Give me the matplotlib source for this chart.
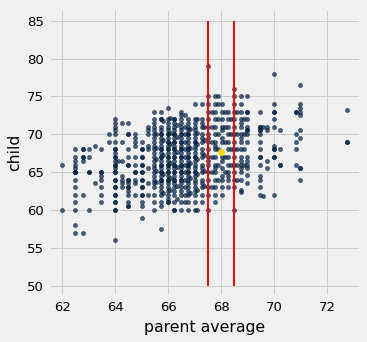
import matplotlib
matplotlib.use('Agg')
import matplotlib.pyplot as plt

# midparent height of each family column, and the children's heights in it
mid = [62.0, 62.5, 62.77, 63.0, 63.25, 63.48, 63.75, 64.0, 64.1, 64.25,
       64.5, 64.75, 65.0, 65.25, 65.48, 65.55, 65.75, 65.82, 66.0, 66.08,
       66.24, 66.32, 66.5, 66.62, 66.74, 66.82, 67.0, 67.1, 67.27, 67.35,
       67.52, 67.65, 67.77, 67.9, 68.02, 68.14, 68.25, 68.37, 68.5, 68.62,
       68.74, 68.87, 68.99, 69.48, 69.6, 69.75, 70.0, 70.23, 70.84, 71.0,
       72.75]

kids = [
    [66, 60],
    [68, 67, 66.5, 66, 65.5, 65, 65, 65, 64, 63, 62, 61, 60, 58, 57],
    [68, 68, 67, 67, 66.5, 62, 57],
    [68, 67, 65, 65, 60],
    [68.5, 63.5],
    [68, 65, 65, 64.5, 64, 63, 62, 61],
    [70, 69],
    [72, 71.5, 71, 70.5, 70, 69, 68, 68, 67.5, 67, 67, 66.5, 66, 66, 65.5,
     65, 65, 64, 64, 63, 63, 62, 62, 61, 61, 60, 60, 56],
    [66.5],
    [71.5, 69, 66.5, 64.5, 64, 63.5, 63],
    [71.5, 70, 70, 68, 67, 66, 66, 64, 64, 63.5, 63, 63, 62.5, 62, 61,
     60.5, 60.5],
    [70, 69.5, 69, 68.5, 67, 66, 65, 65, 64, 63.5, 62],
    [69, 68, 68, 67, 67, 66, 66, 65, 65, 64, 64, 63, 63, 62, 62, 61, 60.5, 59],
    [71, 70.5, 70, 68.5, 68, 65.5, 63.5, 62],
    [73, 72, 71.5, 71, 70.5, 70, 69.5, 69, 68.5, 68, 67.5, 67, 66.5, 66,
     65.5, 65, 64.5, 64, 63.5, 63, 62, 61, 60],
    [70, 68.2, 66.7, 65.2, 63.7],
    [73, 72, 72, 71, 70.5, 70, 70, 69.5, 69, 68.5, 68, 68, 67.5, 67, 67,
     66.5, 66, 66, 65.5, 65, 65, 64.5, 64, 64, 63.5, 63, 62.5, 62, 61, 60.5,
     57.5],
    [71.7, 69.2, 67.2, 64.7, 62.2],
    [73.5, 72, 71.5, 71, 70.5, 70, 70, 69.5, 69, 69, 68.5, 68, 68, 67.5, 67,
     67, 66.5, 66, 66, 65.5, 65, 65, 64.5, 64, 64, 63.5, 63, 62.5, 62, 61.5,
     61, 61],
    [72.2, 70.2, 68.7, 66.2, 64.2, 62.7],
    [72, 72, 71.5, 71, 70.5, 70, 70, 69.5, 69, 69, 68.5, 68, 68, 67.5, 67,
     67, 66.5, 66, 66, 65.5, 65, 65, 64.5, 64, 64, 63.5, 63, 62.5, 62, 61,
     60, 60],
    [71.2, 69.7, 67.7, 65.7, 63.2, 61.5],
    [73, 72.5, 72, 71.5, 71, 70.5, 70, 70, 69.5, 69, 69, 68.5, 68, 68, 67.5,
     67, 67, 66.5, 66, 66, 65.5, 65, 65, 64.5, 64, 64, 63.5, 63, 62.5, 62,
     61, 60],
    [72.5, 71, 70, 69, 68, 67, 66, 65, 64, 63, 62, 61],
    [72, 71.5, 71, 70.5, 70, 70, 69.5, 69, 68.5, 68, 68, 67.5, 67, 67, 66.5,
     66, 66, 65.5, 65, 65, 64.5, 64, 63.5, 63, 62.5, 62, 61, 60],
    [70.7, 68.2, 66.2, 64.2, 62.2],
    [74, 72, 71.5, 71, 70.5, 70, 69.5, 69, 69, 68.5, 68, 67.5, 67, 67, 66.5,
     66, 65.5, 65, 65, 64.5, 64, 63.5, 63, 62.5, 62, 61, 60],
    [72, 70.2, 68.7, 66.7, 64.7, 62.7, 60],
    [74, 72, 71.5, 71, 70, 69.5, 69, 68, 67.5, 67, 66, 65.5, 65, 64, 63.5,
     63, 62, 61],
    [71, 69.2, 67.2, 65.2, 63.2],
    [79, 75, 74, 73, 72, 71, 70, 69.5, 69, 68, 67, 66.5, 66, 65, 64, 63, 62, 60],
    [73, 71, 69, 67, 65, 63],
    [75, 74, 73, 72, 71, 70, 69, 68.5, 68, 67, 66, 65.5, 65, 64, 63, 62, 61],
    [75, 74, 72, 70, 68, 66, 64],
    [74, 73, 72, 71, 70.5, 69.5, 69, 67, 66.5, 65.5, 64.5, 64, 63, 62],
    [73, 71, 69, 67, 65],
    [73, 72, 71, 70, 69, 68, 67, 66, 65, 64.5, 64, 63],
    [72, 70, 68, 66],
    [76, 75, 74, 73, 72, 71, 70, 69, 68, 67, 66, 65, 64, 63, 60],
    [73, 70, 68, 66, 64],
    [75, 74, 73, 72, 71.5, 71, 70, 69.5, 69, 68, 67, 66.5, 66, 65.5, 65, 64,
     62.7, 62.4],
    [72, 70, 68, 66],
    [75, 73, 73, 72, 71, 70.5, 70.5, 70, 69, 67, 66.5, 66, 65.5, 64.6, 63.5],
    [73, 71, 71, 70.5, 70.5, 70, 69, 68, 67, 67, 66, 64.5, 64, 63, 62],
    [71, 61.8],
    [71, 70.5, 66.5, 65.5],
    [78, 74, 73, 73, 72, 71, 68.5, 68, 68, 67, 67, 62],
    [70.5, 68, 66, 66],
    [73, 73, 70, 69, 68, 66],
    [76.5, 74, 73.5, 73, 72.5, 70.5, 69.5, 65.5, 65.5, 64],
    [73.2, 69, 69],
]

# prediction for parents averaging 68 inches, window 67.5 - 68.5
pred_x = 68
pred_y = 67.62
window = [67.5, 68.5]

parent = []
child = []
for x, ys in zip(mid, kids):
    for y in ys:
        parent.append(x)
        child.append(y)

plt.style.use('fivethirtyeight')
fig = plt.figure(figsize=(367 / 72, 342 / 72), dpi=72)
ax = fig.add_axes([49 / 367, 1 - 295 / 342, 311 / 367, 285.7 / 342])

ax.scatter(parent, child, s=18, color=(0.0, 30 / 256, 66 / 256), alpha=0.7, zorder=3)
for w in window:
    ax.plot([w, w], [50, 85], color='red', lw=2, zorder=4)
ax.scatter(pred_x, pred_y, color='gold', s=40, zorder=5)

ax.set_xlim(61.5, 73.25)
ax.set_ylim(48.77, 86.5)
ax.set_xticks([62, 64, 66, 68, 70, 72])
ax.set_yticks([50, 55, 60, 65, 70, 75, 80, 85])
ax.tick_params(axis='x', labelsize=13.2, pad=6)
ax.tick_params(axis='y', labelsize=13.2, pad=5)
ax.set_xlabel('parent average', fontsize=15.8, labelpad=6)
ax.set_ylabel('child', fontsize=15.8, labelpad=5)

fig.savefig('out.png', dpi=72)
